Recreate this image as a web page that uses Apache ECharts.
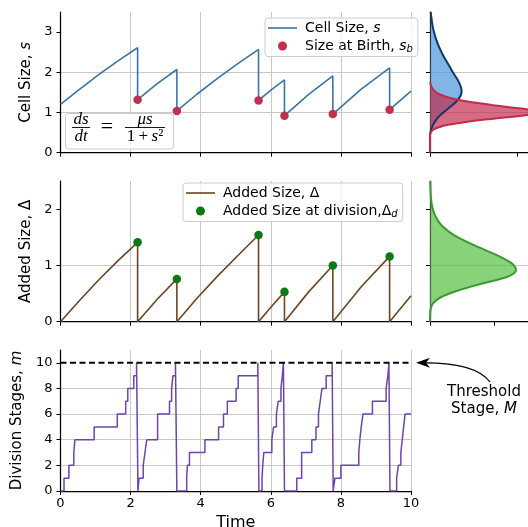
<!DOCTYPE html>
<html>
<head>
<meta charset="utf-8">
<script src="https://cdn.jsdelivr.net/npm/echarts@6/dist/echarts.min.js"></script>
<style>
html, body { margin: 0; padding: 0; background: #fff; }
#chart { width: 528px; height: 527px; }
</style>
</head>
<body>
<div id="chart"></div>
<script>
// ---- values ----
// cell size trajectory (vertical drops = repeated time)
const sizeTimes = [0, 0.55, 1.1, 1.65, 2.2, 2.2, 2.76, 3.32, 3.32, 3.9, 4.48, 5.07, 5.65, 5.65, 6.02, 6.39,
  6.39, 7.08, 7.77, 7.77, 8.58, 9.39, 9.39, 10];
const cellSize = [1.20, 1.58, 1.95, 2.29, 2.61, 1.32, 1.72, 2.07, 1.04, 1.46, 1.85, 2.22, 2.57, 1.30, 1.57, 1.81,
  0.92, 1.45, 1.91, 0.96, 1.58, 2.11, 1.07, 1.53];
const addedSize = [0, 0.38, 0.75, 1.09, 1.41, 0, 0.40, 0.76, 0, 0.42, 0.81, 1.18, 1.54, 0, 0.27, 0.53,
  0, 0.53, 1.00, 0, 0.62, 1.16, 0, 0.46];

const divisionTimes = [2.20, 3.32, 5.65, 6.39, 7.77, 9.39];
const birthSize = [1.32, 1.04, 1.30, 0.92, 0.96, 1.07];
const addedAtDivision = [1.41, 0.76, 1.54, 0.53, 1.00, 1.16];

// division stages (step changes)
const stageTimes = [0, 0.10, 0.24, 0.38, 0.41, 0.96, 1.62, 1.86, 1.92, 2.09, 2.17, 2.21,
  2.24, 2.36, 2.41, 2.46, 2.77, 3.11, 3.17, 3.21, 3.28, 3.32,
  3.60, 3.62, 3.68, 4.12, 4.51, 4.65, 4.76, 5.01, 5.07, 5.63, 5.66,
  5.75, 5.77, 5.80, 6.03, 6.08, 6.16, 6.21, 6.29, 6.33, 6.36, 6.39,
  6.74, 6.88, 7.17, 7.29, 7.36, 7.41, 7.46, 7.58, 7.75, 7.78,
  7.83, 8.00, 8.51, 8.54, 8.58, 8.63, 8.90, 9.29, 9.34, 9.37, 9.40,
  9.59, 9.64, 9.71, 9.75, 9.79, 9.83, 10];
const stageValues = [0, 1, 2, 3, 4, 5, 6, 7, 8, 9, 10, 0,
  1, 2, 3, 4, 6, 7, 8, 9, 10, 0,
  1, 2, 3, 4, 5, 6, 7, 8, 9, 10, 0,
  1, 2, 3, 4, 5, 6, 7, 8, 9, 10, 0,
  1, 3, 4, 5, 6, 7, 8, 9, 10, 0,
  1, 2, 3, 4, 5, 6, 7, 8, 9, 10, 0,
  1, 2, 3, 4, 5, 6, 6];
const thresholdStage = 10;

// side densities (value on y, density on x)
const cellDensS = [0.45, 0.55, 0.65, 0.75, 0.85, 0.95, 1.05, 1.15, 1.25, 1.35, 1.45, 1.55, 1.65, 1.75, 1.85,
  1.95, 2.1, 2.25, 2.4, 2.55, 2.7, 2.85, 3.0, 3.15, 3.3, 3.5];
const cellDens = [0.0, 0.02, 0.05, 0.10, 0.16, 0.25, 0.36, 0.47, 0.58, 0.66, 0.71, 0.72, 0.70, 0.66, 0.61,
  0.55, 0.47, 0.39, 0.31, 0.24, 0.18, 0.13, 0.09, 0.06, 0.04, 0.015];
const birthDensS = [0.00, 0.45, 0.52, 0.58, 0.64, 0.70, 0.76, 0.82, 0.88, 0.94, 1.00, 1.06, 1.12, 1.18, 1.24,
  1.30, 1.38, 1.46, 1.55, 1.65, 1.75];
const birthDens = [0.00, 0.00, 0.03, 0.08, 0.22, 0.44, 0.78, 1.20, 1.75, 2.20, 2.42, 2.32, 1.90, 1.45, 1.05,
  0.72, 0.40, 0.20, 0.09, 0.03, 0.00];
const addedDensD = [0.0, 0.15, 0.25, 0.33, 0.43, 0.55, 0.67, 0.79, 0.86, 0.92, 0.98, 1.05, 1.18, 1.36, 1.54,
  1.71, 1.86, 2.01, 2.2, 2.5];
const addedDens = [0.0, 0.003, 0.015, 0.05, 0.16, 0.42, 0.78, 1.18, 1.30, 1.33, 1.31, 1.25, 1.04, 0.68, 0.37,
  0.18, 0.09, 0.04, 0.015, 0.004];

const sizeTicks = [0, 1, 2, 3];
const addedTicks = [0, 1, 2];
const stageTicks = [0, 2, 4, 6, 8, 10];
const timeTicks = [0, 2, 4, 6, 8, 10];

const FONT = 'DejaVu Sans';
const MATH = 'Liberation Serif';

const zip = (a, b) => a.map((v, i) => [v, b[i]]);

function axis(gridIndex, min, max, interval, ticks, showLabels, maxLine) {
  return {
    type: 'value', gridIndex: gridIndex, min: min, max: max, interval: interval,
    axisLine: {show: true, onZero: false, lineStyle: {color: '#000', width: 1.25}},
    axisTick: {show: true, length: 4, customValues: ticks, lineStyle: {color: '#000', width: 1}},
    axisLabel: {show: showLabels, customValues: ticks, color: '#000', fontSize: 13, fontFamily: FONT, margin: 6},
    splitLine: {show: true, showMinLine: false, showMaxLine: maxLine, lineStyle: {color: '#c8c8c8', width: 1}}
  };
}

function yName(ax, name, gap) {
  ax.name = name;
  ax.nameLocation = 'middle';
  ax.nameGap = gap;
  ax.nameTextStyle = {fontSize: 15, fontFamily: FONT, color: '#000',
    rich: {i: {fontSize: 15, fontFamily: FONT, fontStyle: 'italic', color: '#000'}}};
  ax.axisLabel.margin = 8;
  return ax;
}

// filled density drawn as one polygon through the axes' scales
function densityFill(axisIdx, pts, fill, z) {
  return {
    type: 'custom', xAxisIndex: axisIdx, yAxisIndex: axisIdx, z: z, silent: true,
    data: pts,
    renderItem: function (params, api) {
      if (params.dataIndex !== 0) return;
      return {
        type: 'polygon',
        shape: {points: pts.map(p => api.coord(p))},
        style: {fill: fill}
      };
    }
  };
}
function densityLine(axisIdx, pts, color, z) {
  return {
    type: 'line', xAxisIndex: axisIdx, yAxisIndex: axisIdx, z: z, silent: true,
    data: pts, showSymbol: false, symbol: 'none', smooth: 0.3, clip: false,
    lineStyle: {color: color, width: 2}
  };
}

const xAxes = [0, 1, 2].map(i => axis(i, 0, 10, 2, timeTicks, i === 2, true));
xAxes[2].name = 'Time';
xAxes[2].nameLocation = 'middle';
xAxes[2].nameGap = 24;
xAxes[2].nameTextStyle = {fontSize: 16, fontFamily: FONT, color: '#000'};
xAxes.push(axis(3, 0, 2.235, 2, [0, 2], false, false));
xAxes.push(axis(4, 0, 1.515, 1, [0, 1], false, false));

const yAxes = [
  yName(axis(0, 0, 3.5, 1, sizeTicks, true, false), 'Cell Size, {i|s}', 22),
  yName(axis(1, 0, 2.5, 1, addedTicks, true, false), 'Added Size, Δ', 22),
  yName(axis(2, 0, 11, 2, stageTicks, true, false), 'Division Stages, {i|m}', 31),
  axis(3, 0, 3.5, 1, sizeTicks, false, false),
  axis(4, 0, 2.5, 1, addedTicks, false, false)
];

const lineIcon = 'path://M0,0H29V1.6H0Z';
const legendText = {
  'Cell Size, s': '{n|Cell Size, }{i|s}',
  'Size at Birth, sb': '{n|Size at Birth, }{i|s}{sub|b}',
  'Added Size, Δ': '{n|Added Size, Δ}',
  'Added Size at division, Δd': '{n|Added Size at division,Δ}{sub|d}'
};
const legendRich = {
  n: {fontSize: 14, fontFamily: FONT, color: '#000', padding: [0, 0, 0, 3]},
  i: {fontSize: 14, fontFamily: FONT, fontStyle: 'italic', color: '#000'},
  sub: {fontSize: 10, fontFamily: FONT, fontStyle: 'italic', color: '#000', verticalAlign: 'bottom', padding: [7, 0, 0, 0]}
};
function legendBox(items, left, top) {
  return {
    data: items, left: left, top: top, orient: 'vertical',
    itemWidth: 29, itemHeight: 9, itemGap: 4,
    padding: [3, 5, 2, 3],
    backgroundColor: 'rgba(255,255,255,0.8)', borderColor: '#cccccc', borderWidth: 1, borderRadius: 3,
    formatter: name => legendText[name],
    textStyle: {fontSize: 14, fontFamily: FONT, color: '#000', rich: legendRich},
    selectedMode: false
  };
}

const option = {
  animation: false,
  backgroundColor: '#fff',
  textStyle: {fontFamily: FONT},
  grid: [
    {left: 60.5, top: 12, width: 350.5, height: 140.7, outerBoundsMode: 'none'},
    {left: 60.5, top: 181, width: 350.5, height: 140.7, outerBoundsMode: 'none'},
    {left: 60.5, top: 350, width: 350.5, height: 141, outerBoundsMode: 'none'},
    {left: 430, top: 12, right: 0, height: 140.7, outerBoundsMode: 'none'},
    {left: 430, top: 181, right: 0, height: 140.7, outerBoundsMode: 'none'}
  ],
  xAxis: xAxes,
  yAxis: yAxes,
  legend: [
    legendBox([{name: 'Cell Size, s', icon: lineIcon}, 'Size at Birth, sb'], 265, 18),
    legendBox([{name: 'Added Size, Δ', icon: lineIcon}, 'Added Size at division, Δd'], 183, 183)
  ],
  series: [
    {name: 'Cell Size, s', type: 'line', xAxisIndex: 0, yAxisIndex: 0, data: zip(sizeTimes, cellSize),
      symbol: 'none', lineStyle: {color: '#3a75a6', width: 1.6}, itemStyle: {color: '#3a75a6'}, z: 2},
    {name: 'Size at Birth, sb', type: 'scatter', xAxisIndex: 0, yAxisIndex: 0, data: zip(divisionTimes, birthSize),
      symbolSize: 8.5, itemStyle: {color: '#c0304f', opacity: 1}, z: 3},
    {name: 'Added Size, Δ', type: 'line', xAxisIndex: 1, yAxisIndex: 1, data: zip(sizeTimes, addedSize),
      symbol: 'none', lineStyle: {color: '#6d4522', width: 1.6}, itemStyle: {color: '#6d4522'}, z: 2},
    {name: 'Added Size at division, Δd', type: 'scatter', xAxisIndex: 1, yAxisIndex: 1,
      data: zip(divisionTimes, addedAtDivision), symbolSize: 8.5, itemStyle: {color: '#0b7a12', opacity: 1}, z: 3},
    {name: 'stages', type: 'line', xAxisIndex: 2, yAxisIndex: 2, data: zip(stageTimes, stageValues),
      step: 'end', symbol: 'none', lineStyle: {color: '#6e44ad', width: 1.5}, z: 2},
    {name: 'threshold', type: 'line', xAxisIndex: 2, yAxisIndex: 2,
      data: [[0, thresholdStage], [10, thresholdStage]], symbol: 'none',
      lineStyle: {color: '#000', width: 2, type: [6, 3.5]}, z: 3},
    densityFill(3, zip(cellDens, cellDensS), 'rgba(74,149,219,0.7)', 2),
    densityFill(3, zip(birthDens, birthDensS), 'rgba(194,38,72,0.68)', 3),
    densityLine(3, zip(cellDens, cellDensS), '#0e3a66', 4),
    densityLine(3, zip(birthDens, birthDensS), '#c42a4c', 5),
    densityFill(4, zip(addedDens, addedDensD), 'rgba(85,191,65,0.7)', 2),
    densityLine(4, zip(addedDens, addedDensD), '#3b9a2f', 3)
  ]
};

const chart = echarts.init(document.getElementById('chart'));
chart.setOption(option);

// formula box and threshold annotation
const tip = chart.convertToPixel({gridIndex: 2}, [10, thresholdStage]);
const tx = tip[0] + 5, ty = tip[1];
const mathStyle = (text, x, y, size) => ({
  type: 'text', x: x, y: y, z: 11,
  style: {text: text, fontSize: size, fontFamily: MATH, fontStyle: 'italic', fill: '#000',
    align: 'center', verticalAlign: 'middle',
    rich: {r: {fontSize: size, fontFamily: MATH, fontStyle: 'normal'},
      i: {fontSize: size, fontFamily: MATH, fontStyle: 'italic'}}}
});
chart.setOption({
  graphic: [
    {type: 'rect', z: 10, shape: {x: 65.5, y: 113.5, width: 108, height: 35.5, r: 3},
      style: {fill: 'rgba(255,255,255,0.85)', stroke: '#cccccc', lineWidth: 1}},
    mathStyle('ds', 81, 120, 17),
    {type: 'line', z: 11, shape: {x1: 72, y1: 127.5, x2: 90, y2: 127.5}, style: {stroke: '#000', lineWidth: 0.9}},
    mathStyle('dt', 81, 137, 17),
    mathStyle('{r|=}', 107, 127.5, 22),
    mathStyle('μs', 145, 120, 17),
    {type: 'line', z: 11, shape: {x1: 125, y1: 127.5, x2: 165, y2: 127.5}, style: {stroke: '#000', lineWidth: 0.9}},
    mathStyle('{r|1\u2009+\u2009}{i|s}{r|²}', 145, 137, 17),
    {type: 'bezierCurve', z: 10,
      shape: {x1: 490, y1: 382, cpx1: 476, cpy1: ty, x2: tx + 9, y2: ty},
      style: {stroke: '#000', lineWidth: 1.2, fill: null}},
    {type: 'polygon', z: 10,
      shape: {points: [[tx, ty], [tx + 14, ty - 5], [tx + 10, ty], [tx + 14, ty + 5]]},
      style: {fill: '#000'}},
    {type: 'text', z: 10, x: 484, y: 392,
      style: {text: 'Threshold', fontSize: 15, fontFamily: FONT, fill: '#000', align: 'center', verticalAlign: 'middle'}},
    {type: 'text', z: 10, x: 484, y: 409,
      style: {text: '{n|Stage, }{i|M}', fontSize: 15, fontFamily: FONT, fill: '#000', align: 'center', verticalAlign: 'middle',
        rich: {n: {fontSize: 15, fontFamily: FONT}, i: {fontSize: 15, fontFamily: FONT, fontStyle: 'italic'}}}}
  ]
});
</script>
</body>
</html>
